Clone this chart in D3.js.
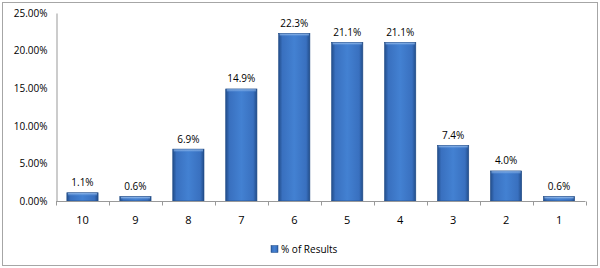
<!DOCTYPE html>
<html><head><meta charset="utf-8">
<script src="https://cdn.jsdelivr.net/npm/d3@7"></script>
<style>
body{margin:0;background:#fff;}
svg{display:block;font-family:"Open Sans",sans-serif;}
</style></head>
<body><svg id="c" width="600" height="268"></svg>
<script>
const categories = ["10","9","8","7","6","5","4","3","2","1"];
const values = [1.1, 0.6, 6.9, 14.9, 22.3, 21.1, 21.1, 7.4, 4.0, 0.6];
const yTicks = [0, 5, 10, 15, 20, 25];
const seriesName = "% of Results";

const svg = d3.select("#c");
const defs = svg.append("defs");
const g1 = defs.append("linearGradient").attr("id","barH").attr("x1","0").attr("x2","1").attr("y1","0").attr("y2","0");
[["0%","#224d8a"],["12%","#3970bf"],["50%","#4381d2"],["88%","#3970bf"],["100%","#224d8a"]].forEach(s=>g1.append("stop").attr("offset",s[0]).attr("stop-color",s[1]));
const g2 = defs.append("linearGradient").attr("id","barV").attr("x1","0").attr("x2","0").attr("y1","0").attr("y2","1");
[["0%","#a6c8f2",0.9],["100%","#4381d2",0]].forEach(s=>g2.append("stop").attr("offset",s[0]).attr("stop-color",s[1]).attr("stop-opacity",s[2]));

// outer border
svg.append("rect").attr("x",2.5).attr("y",2.5).attr("width",595).attr("height",263).attr("fill","none").attr("stroke","#a6a6a6");

const x = d3.scaleBand().domain(categories).range([56,585.5]).paddingInner(0.41).paddingOuter(0.205);
const y = d3.scaleLinear().domain([0,25]).range([201,13]);

// y axis
const ya = svg.append("g").attr("transform","translate(56.5,0)")
  .call(d3.axisLeft(y).tickValues(yTicks).tickSize(0).tickPadding(9).tickFormat(d=>d3.format(".2f")(d)+"%"));
ya.select(".domain").attr("stroke","#999");
ya.selectAll("text").attr("font-family","Open Sans").attr("font-size",10).attr("fill","#000");

// bars
const bars = svg.append("g");
categories.forEach((c,i)=>{
  const bx = x(c), bw = x.bandwidth(), by = y(values[i]), bh = y(0)-y(values[i]);
  bars.append("rect").attr("x",bx).attr("y",by).attr("width",bw).attr("height",bh).attr("fill","url(#barH)").attr("stroke","#1f4a85").attr("stroke-width",0.6);
  bars.append("rect").attr("x",bx+1).attr("y",by+0.5).attr("width",bw-2).attr("height",Math.min(3,bh-1)).attr("fill","url(#barV)");
  bars.append("text").attr("x",bx+bw/2).attr("y",by-10).attr("dy","0.35em").attr("text-anchor","middle")
    .attr("font-size",10).attr("fill","#000").text(d3.format(".1f")(values[i])+"%");
});

// x axis with boundary ticks
const xg = svg.append("g");
xg.append("line").attr("x1",56).attr("x2",585.5).attr("y1",201.5).attr("y2",201.5).attr("stroke","#999");
const step = x.step();
d3.range(categories.length+1).forEach(k=>{
  const tx = Math.round(56 + k*step)+0.5;
  xg.append("line").attr("x1",tx).attr("x2",tx).attr("y1",201.5).attr("y2",205.5).attr("stroke","#999");
});
categories.forEach(c=>{
  xg.append("text").attr("x",x(c)+x.bandwidth()/2).attr("y",220).attr("dy","0.35em").attr("text-anchor","middle")
    .attr("font-size",11).attr("fill","#000").text(c);
});

// legend
const lg = svg.append("g");
lg.append("rect").attr("x",271).attr("y",245.5).attr("width",7).attr("height",7).attr("fill","url(#barH)").attr("stroke","#1f4a85").attr("stroke-width",0.5);
lg.append("text").attr("x",281).attr("y",249).attr("dy","0.35em").attr("font-size",10).attr("fill","#000").text(seriesName);
</script></body></html>
